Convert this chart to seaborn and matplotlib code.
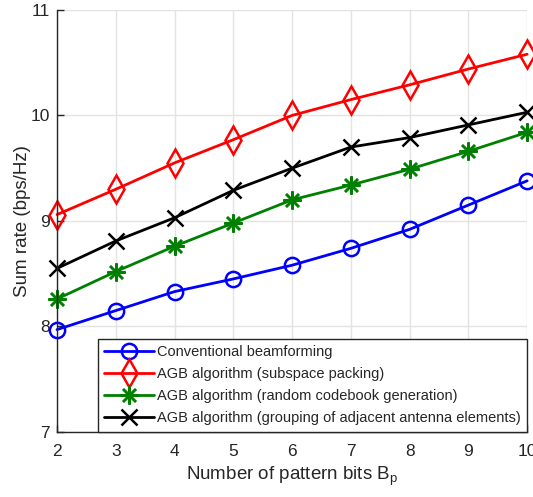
import matplotlib
matplotlib.use("Agg")
import matplotlib.pyplot as plt
import seaborn as sns
import pandas as pd

bits = [2, 3, 4, 5, 6, 7, 8, 9, 10]
conventional = [7.97, 8.15, 8.33, 8.45, 8.58, 8.74, 8.92, 9.15, 9.38]
subspace_packing = [9.06, 9.30, 9.55, 9.77, 10.00, 10.15, 10.29, 10.44, 10.58]
random_codebook = [8.26, 8.52, 8.76, 8.98, 9.20, 9.34, 9.49, 9.66, 9.84]
grouping_adjacent = [8.55, 8.81, 9.03, 9.29, 9.50, 9.70, 9.79, 9.91, 10.03]

labels = [
    "Conventional beamforming",
    "AGB algorithm (subspace packing)",
    "AGB algorithm (random codebook generation)",
    "AGB algorithm (grouping of adjacent antenna elements)",
]
series = [conventional, subspace_packing, random_codebook, grouping_adjacent]
colors = ["#0000ff", "#ff0000", "#008000", "#000000"]
# asterisk drawn as 8 spokes, like a plus and a cross combined
markers = ["o", "d", (8, 2, 0), "x"]
msizes = [11, 14, 13, 11]

sns.set_style("white")
plt.rcParams["font.family"] = ["Liberation Sans", "DejaVu Sans"]

df = pd.DataFrame(
    [(b, v, lab) for lab, vals in zip(labels, series) for b, v in zip(bits, vals)],
    columns=["bits", "rate", "method"],
)

fig = plt.figure(figsize=(5.33, 4.97), dpi=100)
ax = fig.add_axes([0.107, 0.131, 0.882, 0.849])

for lab, col, mk, ms in zip(labels, colors, markers, msizes):
    sub = df[df["method"] == lab]
    sns.lineplot(
        data=sub, x="bits", y="rate", ax=ax, color=col, marker=mk,
        markersize=ms, markerfacecolor="none", markeredgecolor=col,
        markeredgewidth=1.8, linewidth=2.0, label=lab, clip_on=False,
    )

ax.set_xlim(2, 10)
ax.set_ylim(7, 11)
ax.set_xticks(bits)
ax.set_yticks([7, 8, 9, 10, 11])
ax.grid(True, color="#e3e3e3", linewidth=1.0)
ax.set_axisbelow(True)
for s in ["top", "right"]:
    ax.spines[s].set_visible(False)
for s in ["left", "bottom"]:
    ax.spines[s].set_color("#262626")
    ax.spines[s].set_linewidth(1.0)
ax.tick_params(axis="both", direction="in", length=5, width=1.0,
               labelsize=12.5, colors="#262626", left=True, bottom=True)
ax.tick_params(axis="x", pad=9)
ax.tick_params(axis="y", pad=5)
ax.set_xlabel("Number of pattern bits B$_\\mathregular{p}$", fontsize=13.5,
              color="#262626", labelpad=4)
ax.set_ylabel("Sum rate (bps/Hz)", fontsize=13.5, color="#262626", labelpad=0)

leg = ax.legend(loc="lower right", fontsize=10.5, frameon=True, fancybox=False,
                edgecolor="#262626", framealpha=1, borderaxespad=0.0,
                handlelength=3.4, handletextpad=0.2, labelspacing=0.55,
                borderpad=0.45)
leg.get_frame().set_linewidth(1.0)
leg.set_zorder(5)

fig.savefig("out.png", dpi=100)
